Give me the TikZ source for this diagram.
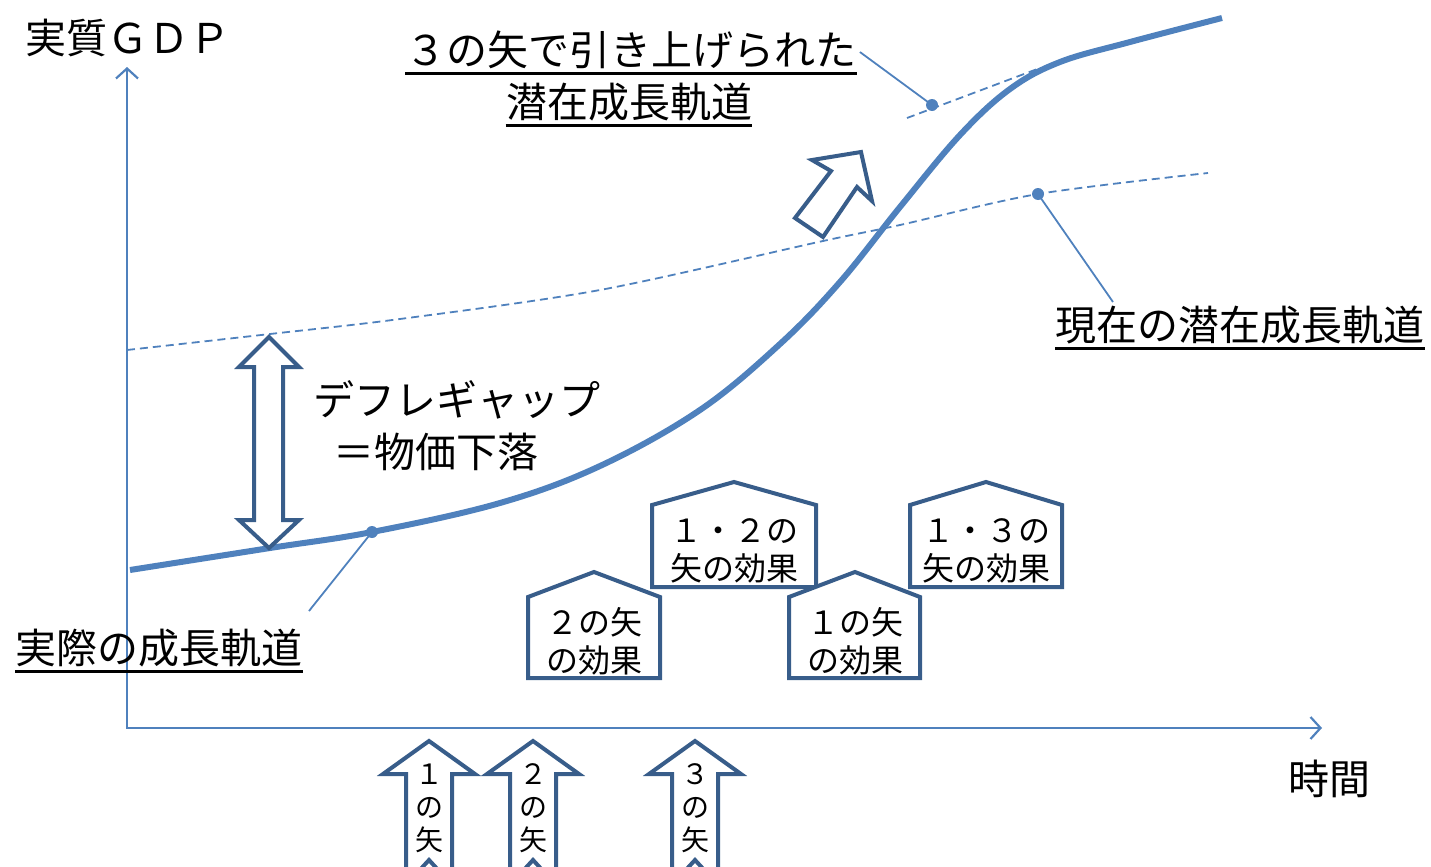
\documentclass[tikz,border=0pt]{standalone}
\usepackage{fontspec}
\setmainfont{Noto Sans CJK JP}
\usetikzlibrary{arrows.meta}
\definecolor{lblue}{HTML}{4F81BD}
\definecolor{dblue}{HTML}{385D8A}
\begin{document}
\begin{tikzpicture}[x=0.5pt,y=-0.5pt,
  axis/.style={draw=lblue, line width=1.1pt, {Straight Barb[length=5pt,width=11pt]}-{Straight Barb[length=5pt,width=11pt]}},
  growth/.style={draw=lblue, line width=3pt},
  potential/.style={draw=lblue, line width=0.9pt, dash pattern=on 4pt off 2.5pt},
  leader/.style={draw=lblue, line width=0.9pt},
  blockshape/.style={draw=dblue, line width=2pt, fill=white, line join=miter},
  big/.style={font=\fontsize{20.5}{24}\selectfont, inner sep=0pt},
  boxtext/.style={font=\fontsize{16}{19}\selectfont, align=center, inner sep=0pt},
  arrowtext/.style={font=\fontsize{14}{16.5}\selectfont, align=center, inner sep=0pt},
  uline/.style={draw=black, line width=1.2pt},
  dot/.style={fill=lblue}
]
\useasboundingbox (0,0) rectangle (1431,867);
\clip (0,0) rectangle (1431,867);

% axes
\coordinate (O) at (127,728);
\coordinate (ytip) at (127,67);
\coordinate (xtip) at (1322,728);
\draw[axis] (ytip) -- (O) -- (xtip);

% current potential growth path (dashed)
\draw[potential] plot[smooth] coordinates {(127,350) (270,334) (400,319) (600,290) (823,241) (900,225) (1038,194) (1208,173)};
% raised potential path (dashed)
\coordinate (u0) at (907,118);
\coordinate (u1) at (1040,68);
\draw[potential] (u0) -- (u1);

% actual growth path
\draw[growth] plot[smooth, tension=0.6] coordinates {(130,570) (270,548) (372,532) (500,503) (600,466) (700,410) (780,344) (840,282) (900,207) (960,135) (1010,89) (1060,62) (1130,42) (1222,18)};

% dots
\coordinate (d1) at (372,532);
\coordinate (d2) at (1038,194);
\coordinate (d3) at (932,105);
\fill[dot] (d1) circle (3pt);
\fill[dot] (d2) circle (3pt);
\fill[dot] (d3) circle (3pt);

% labels
\node[big] (ylabel) at (128,38) {実質ＧＤＰ};
\node[big] (xlabel) at (1329,779) {時間};
\node[big] (title1) at (631,50) {３の矢で引き上げられた};
\node[big] (title2) at (629,102) {潜在成長軌道};
\node[big] (cur) at (1240,325) {現在の潜在成長軌道};
\node[big] (act) at (159,648) {実際の成長軌道};
\node[big, anchor=west] (gap1) at (313,400) {デフレギャップ};
\node[big, anchor=west] (gap2) at (333,452) {＝物価下落};

\foreach \n in {title1,title2,cur,act}{
  \draw[uline] ([yshift=-2pt]\n.south west) -- ([yshift=-2pt]\n.south east);
}

% leaders
\coordinate (l2) at (1113,302);
\coordinate (l1) at (309,611);
\draw[leader] ([xshift=1.5pt,yshift=-1pt]title1.east) -- (d3);
\draw[leader] (d2) -- (l2);
\draw[leader] (d1) -- (l1);

% diagonal hollow arrow
\draw[blockshape] (861,152) -- (872,201) -- (857,187) -- (823,237) -- (795,218) -- (831,171) -- (812,160) -- cycle;

% double vertical arrow (deflation gap)
\draw[blockshape] (269,337) -- (299,367) -- (283,367) -- (283,520) -- (299,520) -- (269,548) -- (239,520) -- (254,520) -- (254,367) -- (239,367) -- cycle;

% pentagons
\draw[blockshape] (528,678) -- (528,597) -- (594,572) -- (660,597) -- (660,678) -- cycle;
\node[boxtext] (b2) at (594,641) {２の矢\\の効果};
\draw[blockshape] (652,587) -- (652,505) -- (734,482) -- (816,505) -- (816,587) -- cycle;
\node[boxtext] (b12) at (734,551) {１・２の\\矢の効果};
\draw[blockshape] (789,678) -- (789,597) -- (855,572) -- (920,597) -- (920,678) -- cycle;
\node[boxtext] (b1) at (855,641) {１の矢\\の効果};
\draw[blockshape] (910,587) -- (910,505) -- (986,482) -- (1062,505) -- (1062,587) -- cycle;
\node[boxtext] (b13) at (986,551) {１・３の\\矢の効果};

% three arrows at bottom
\foreach \c/\k/\nm in {429/１/a1, 533/２/a2, 695/３/a3}{
  \draw[blockshape] (\c,741) -- (\c+46,774) -- (\c+23,774) -- (\c+23,885) -- (\c,860) -- (\c-23,885) -- (\c-23,774) -- (\c-46,774) -- cycle;
  \node[arrowtext] (\nm) at (\c,808) {\k\\の\\矢};
}
\end{tikzpicture}
\end{document}
